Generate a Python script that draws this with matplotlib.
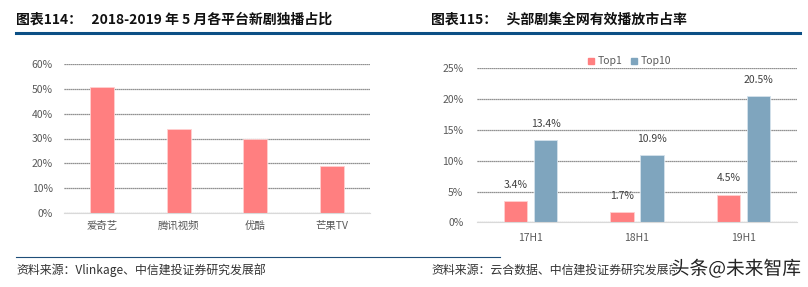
import matplotlib
matplotlib.use("Agg")
import matplotlib.pyplot as plt
import matplotlib.patheffects as pe
import numpy as np
from matplotlib.lines import Line2D
from matplotlib.ticker import FuncFormatter, MultipleLocator

plt.rcParams["font.family"] = ["Noto Sans CJK SC", "DejaVu Sans"]

# left chart: share of exclusive new dramas per platform (May 2018-2019)
platforms = ["爱奇艺", "腾讯视频", "优酷", "芒果TV"]
exclusive_share = [51, 34, 30, 19]

# right chart: effective play market share of top dramas
periods = ["17H1", "18H1", "19H1"]
top1 = [3.4, 1.7, 4.5]
top10 = [13.4, 10.9, 20.5]

PINK = "#FF7F80"
BLUE = "#7FA5BE"
NAVY = "#0B4F85"
TICK = "#595959"
GRID = "#6f6f6f"

W, H = 808, 287
fig = plt.figure(figsize=(W / 100, H / 100), dpi=100)


def box(x0, y0, x1, y1):
    return [x0 / W, 1 - y1 / H, (x1 - x0) / W, (y1 - y0) / H]


def style_axis(ax):
    for side in ("top", "right", "left"):
        ax.spines[side].set_visible(False)
    ax.spines["bottom"].set_color("#d9d9d9")
    ax.tick_params(axis="both", length=0, labelsize=7.5, colors=TICK)
    ax.yaxis.set_major_formatter(FuncFormatter(lambda v, _: f"{v:.0f}%"))
    ax.grid(axis="y", color=GRID, linewidth=0.9, linestyle=(0, (1, 0.6)))
    ax.set_axisbelow(True)


# left chart
ax1 = fig.add_axes(box(64, 64.3, 370, 212.7))
x = np.arange(len(platforms))
ax1.bar(x, exclusive_share, width=0.31, color=PINK, edgecolor="#ffd0d0", linewidth=0.6)
ax1.set_xlim(-0.5, len(platforms) - 0.5)
ax1.set_ylim(0, 60)
ax1.yaxis.set_major_locator(MultipleLocator(10))
ax1.set_xticks(x, platforms)
ax1.tick_params(axis="x", pad=6)
ax1.tick_params(axis="y", pad=8)
style_axis(ax1)

# right chart
ax2 = fig.add_axes(box(477.3, 68.3, 796.7, 222.3))
x = np.arange(len(periods))
bw = 0.22
off = 0.142
b1 = ax2.bar(x - off, top1, width=bw, color=PINK, edgecolor="#ffd0d0", linewidth=0.6, label="Top1")
b2 = ax2.bar(x + off, top10, width=bw, color=BLUE, edgecolor="#d5e2ec", linewidth=0.6, label="Top10")
for bars, vals in ((b1, top1), (b2, top10)):
    for bar, v in zip(bars, vals):
        ax2.annotate(f"{v:.1f}%", (bar.get_x() + bar.get_width() / 2, v),
                     xytext=(0, 8), textcoords="offset points",
                     ha="center", va="bottom", fontsize=7.5, color="#404040")
ax2.set_xlim(-0.5, len(periods) - 0.5)
ax2.set_ylim(0, 25)
ax2.yaxis.set_major_locator(MultipleLocator(5))
ax2.set_xticks(x, periods)
ax2.tick_params(axis="x", pad=8)
ax2.tick_params(axis="y", pad=10)
style_axis(ax2)
handles = [Line2D([], [], marker="s", linestyle="", color=PINK, markersize=5),
           Line2D([], [], marker="s", linestyle="", color=BLUE, markersize=5)]
fig.legend(handles, ["Top1", "Top10"], loc="center", bbox_to_anchor=(628 / W, 1 - 61.5 / H),
           ncol=2, frameon=False, fontsize=7.5, handletextpad=0.05, columnspacing=0.5,
           handlelength=1.2, labelcolor=TICK)

# titles and rules
fig.text(16 / W, 1 - 20 / H, "图表114：   2018-2019 年 5 月各平台新剧独播占比",
         fontsize=10, fontweight="bold", va="center", ha="left", color="#111111")
fig.text(431 / W, 1 - 20 / H, "图表115：   头部剧集全网有效播放市占率",
         fontsize=10, fontweight="bold", va="center", ha="left", color="#111111")
fig.add_artist(Line2D([16 / W, 800 / W], [1 - 33 / H] * 2, color=NAVY, linewidth=2.2))
fig.add_artist(Line2D([16 / W, 500 / W], [1 - 256.5 / H] * 2, color="#1F4E79", linewidth=0.8))

# sources
fig.text(16 / W, 1 - 270 / H, "资料来源：Vlinkage、中信建投证券研究发展部",
         fontsize=8.6, style="italic", va="center", ha="left", color="#333333")
fig.text(431 / W, 1 - 270 / H, "资料来源：云合数据、中信建投证券研究发展部",
         fontsize=8.6, style="italic", va="center", ha="left", color="#333333")
fig.text(801 / W, 1 - 269 / H, "头条@未来智库", fontsize=13.5, va="center", ha="right",
         color="#222222", path_effects=[pe.withStroke(linewidth=2, foreground="white")])

fig.savefig("out.png", dpi=100)
